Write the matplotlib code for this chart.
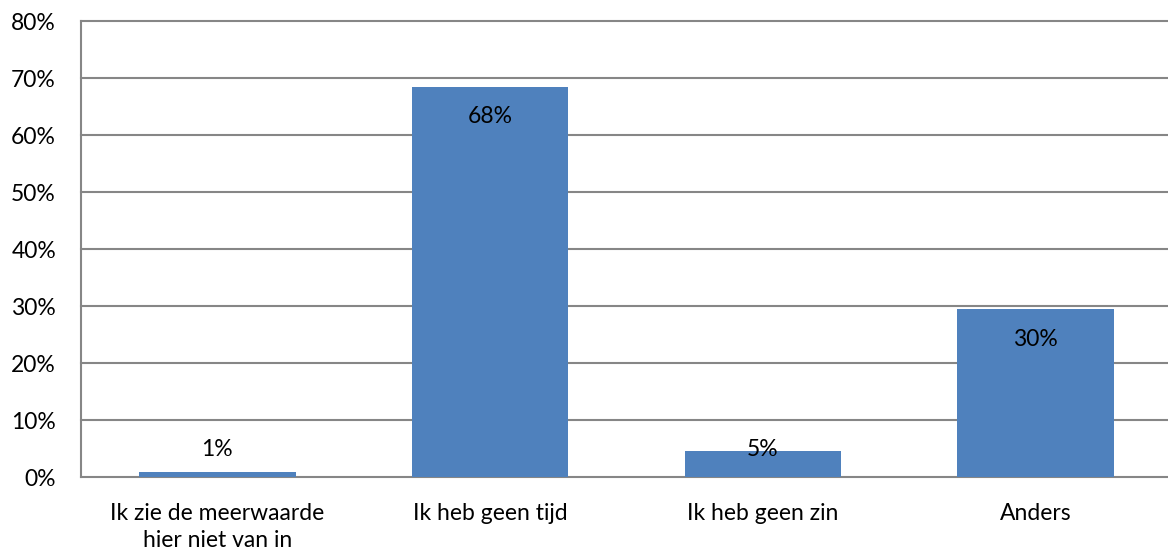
import numpy as np
import matplotlib.pyplot as plt

plt.rcParams['font.family'] = ['Lato', 'DejaVu Sans']

categories = ["Ik zie de meerwaarde\nhier niet van in", "Ik heb geen tijd",
              "Ik heb geen zin", "Anders"]
values = [0.8, 68.5, 4.6, 29.5]
labels = ["1%", "68%", "5%", "30%"]
yticks = [0, 10, 20, 30, 40, 50, 60, 70, 80]

fig = plt.figure(figsize=(11.68, 5.54), dpi=100)
ax = fig.add_axes([81/1168, 1-477/554, 1091/1168, 455.5/554])

x = np.arange(len(categories))
ax.bar(x, values, width=0.573, color="#4F81BD", zorder=3)

# data labels, Excel "inside end" style, clamped above the axis for small bars
for xi, v, lab in zip(x, values, labels):
    yc = max(v - 5.27, 4.75)
    ax.text(xi, yc, lab, ha="center", va="center", fontsize=16.5, color="black", zorder=4)

ax.set_xlim(-0.5, len(categories) - 0.5)
ax.set_ylim(0, 80)
ax.set_yticks(yticks)
ax.set_yticklabels([f"{t}%" for t in yticks])
ax.set_xticks(x)
ax.set_xticklabels(categories, linespacing=1.35)
ax.tick_params(axis="both", length=0, labelsize=16.5)
ax.tick_params(axis="y", pad=18)
ax.tick_params(axis="x", pad=19)

ax.grid(axis="y", color="#868686", linewidth=1.5, zorder=0)
for gl in ax.get_ygridlines():
    gl.set_clip_on(False)
for s in ["top", "right", "bottom"]:
    ax.spines[s].set_visible(False)
ax.spines["left"].set_color("#868686")
ax.spines["left"].set_linewidth(1.5)

fig.savefig("out.png", dpi=100)
